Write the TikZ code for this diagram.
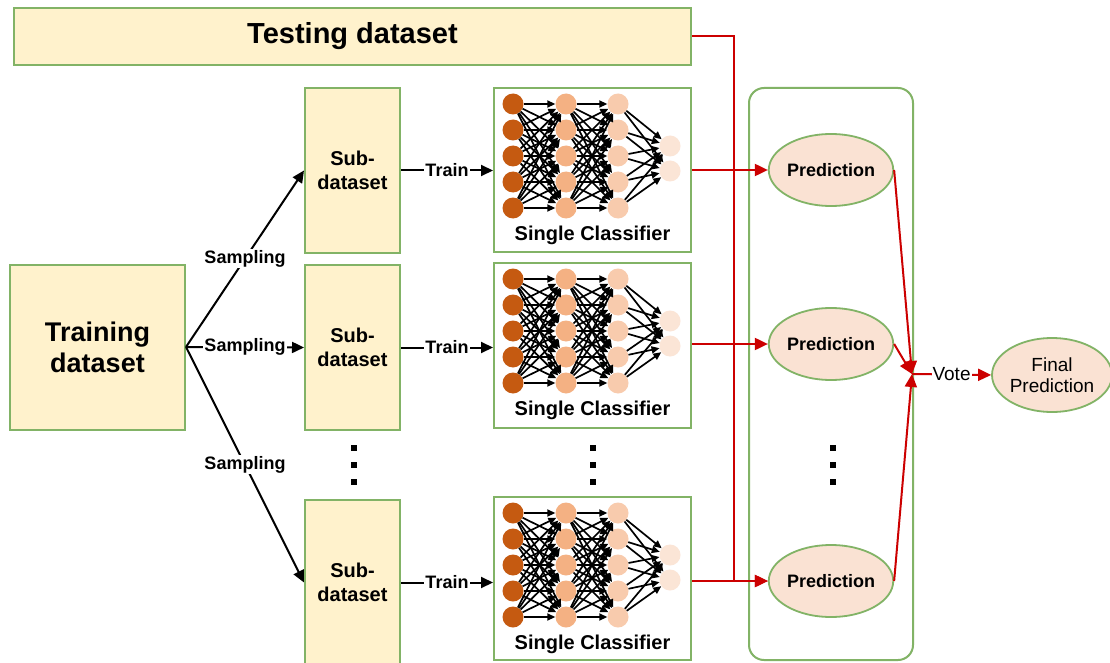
\documentclass[tikz,border=0pt]{standalone}
\usepackage{fontspec}
\setmainfont{Liberation Sans}
\usetikzlibrary{arrows.meta,shapes.geometric,calc}
\definecolor{boxfill}{HTML}{FFF2CC}
\definecolor{boxline}{HTML}{82B366}
\definecolor{predfill}{HTML}{FAE2D3}
\definecolor{redline}{HTML}{CC0000}
\definecolor{nA}{HTML}{C55A11}
\definecolor{nB}{HTML}{F4B183}
\definecolor{nC}{HTML}{F8CBAD}
\definecolor{nD}{HTML}{FBE5D6}

% small fully connected network inside a classifier box
% #1 = name prefix, #2 = top edge of the box
\newcommand{\drawnet}[2]{%
  \foreach \i/\dy in {1/16,2/42,3/68,4/94,5/120} {
    \node[neuron,fill=nA] (#1a\i) at (513,#2+\dy) {};
    \node[neuron,fill=nB] (#1b\i) at (566,#2+\dy) {};
    \node[neuron,fill=nC] (#1c\i) at (618,#2+\dy) {};
  }
  \node[neuron,fill=nD] (#1d1) at (670,#2+58) {};
  \node[neuron,fill=nD] (#1d2) at (670,#2+83) {};
  \foreach \i in {1,...,5} {
    \foreach \j in {1,...,5} {
      \draw[link] (#1a\i) -- (#1b\j);
      \draw[link] (#1b\i) -- (#1c\j);
    }
    \draw[link] (#1c\i) -- (#1d1);
    \draw[link] (#1c\i) -- (#1d2);
  }
  \node[font=\fontsize{20}{22}\selectfont\bfseries] (#1lab) at (592.5,#2+147) {Single Classifier};
}

\begin{document}
\begin{tikzpicture}[x=1pt,y=-1pt,
  databox/.style={draw=boxline,fill=boxfill,line width=2pt,inner sep=0pt,align=center},
  clsbox/.style={draw=boxline,fill=white,line width=2pt,inner sep=0pt,minimum width=197pt},
  pred/.style={ellipse,draw=boxline,fill=predfill,line width=1.8pt,inner sep=0pt,
    minimum width=122pt,minimum height=72pt,font=\fontsize{18}{20}\selectfont\bfseries},
  neuron/.style={circle,minimum size=21pt,inner sep=0pt},
  blk/.style={line width=2pt,-{Triangle[length=12pt,width=11pt]}},
  redarr/.style={draw=redline,line width=2pt,-{Triangle[length=13pt,width=12pt]}},
  lbl/.style={fill=white,inner sep=1pt,font=\fontsize{18}{20}\selectfont\bfseries},
  link/.style={line width=1.7pt,-{Triangle[length=8pt,width=7pt]}},
  dot/.style={fill=black,minimum size=6pt,inner sep=0pt}
]
\useasboundingbox[fill=white] (0,0) rectangle (1110,663);

% datasets
\node[databox,minimum width=677pt,minimum height=57pt,font=\fontsize{29}{32}\selectfont\bfseries]
  (test) at (352.5,36.5) {Testing dataset};
\node[databox,minimum width=175pt,minimum height=165pt,font=\fontsize{27}{31}\selectfont\bfseries]
  (train) at (97.5,347) {Training\\dataset};
\foreach \n/\y in {1/170.5,2/347.5,3/582.5} {
  \node[databox,minimum width=95pt,minimum height=165pt,font=\fontsize{20}{24}\selectfont\bfseries]
    (sub\n) at (352.5,\y) {Sub-\\dataset};
}

% classifiers
\node[clsbox,minimum height=164pt] (cls1) at (592.5,170) {};
\node[clsbox,minimum height=165pt] (cls2) at (592.5,345.5) {};
\node[clsbox,minimum height=163pt] (cls3) at (592.5,578.5) {};
\drawnet{n1}{88}
\drawnet{n2}{263}
\drawnet{n3}{497}

% ensemble frame and predictions
\node[draw=boxline,line width=2pt,rounded corners=15pt,minimum width=164pt,minimum height=572pt]
  (ens) at (831,374) {};
\node[pred] (p1) at (831,170) {Prediction};
\node[pred] (p2) at (831,344) {Prediction};
\node[pred] (p3) at (831,581) {Prediction};
\node[pred,minimum width=120pt,minimum height=74pt,align=center,
  font=\fontsize{19}{21}\selectfont] (final) at (1052,375) {Final\\Prediction};

% continuation dots
\foreach \x in {354,593,833} {
  \foreach \k/\dy in {1/448,2/465,3/482} {
    \node[dot] (d\x-\k) at (\x,\dy) {};
  }
}

% sampling
\draw[blk] (train.east) -- node[lbl] {Sampling} (sub1.west);
\draw[blk] (train.east) -- node[lbl] {Sampling} (sub2.west);
\draw[blk] (train.east) -- node[lbl] {Sampling} (sub3.west);

% training
\foreach \n in {1,2,3} {
  \draw[blk] (sub\n.east) -- node[lbl] {Train} (sub\n.east -| cls\n.west);
}

% predictions
\coordinate (tj) at (734,581);
\draw[redarr] (test.east) -| (tj) -- (p3.west);
\draw[redarr] (cls1.east |- p1.west) -- (p1.west);
\draw[redarr] (cls2.east |- p2.west) -- (p2.west);
\draw[redarr] (cls3.east |- p3.west) -- (p3.west);

% voting
\coordinate (vote) at (912,374);
\draw[redarr] (p1.east) -- (vote);
\draw[redarr] (p2.east) -- (vote);
\draw[redarr] (p3.east) -- (vote);
\draw[redarr] (vote) -- node[fill=white,inner sep=1pt,text=black,font=\fontsize{19}{21}\selectfont] {Vote} (final.west);
\end{tikzpicture}
\end{document}
